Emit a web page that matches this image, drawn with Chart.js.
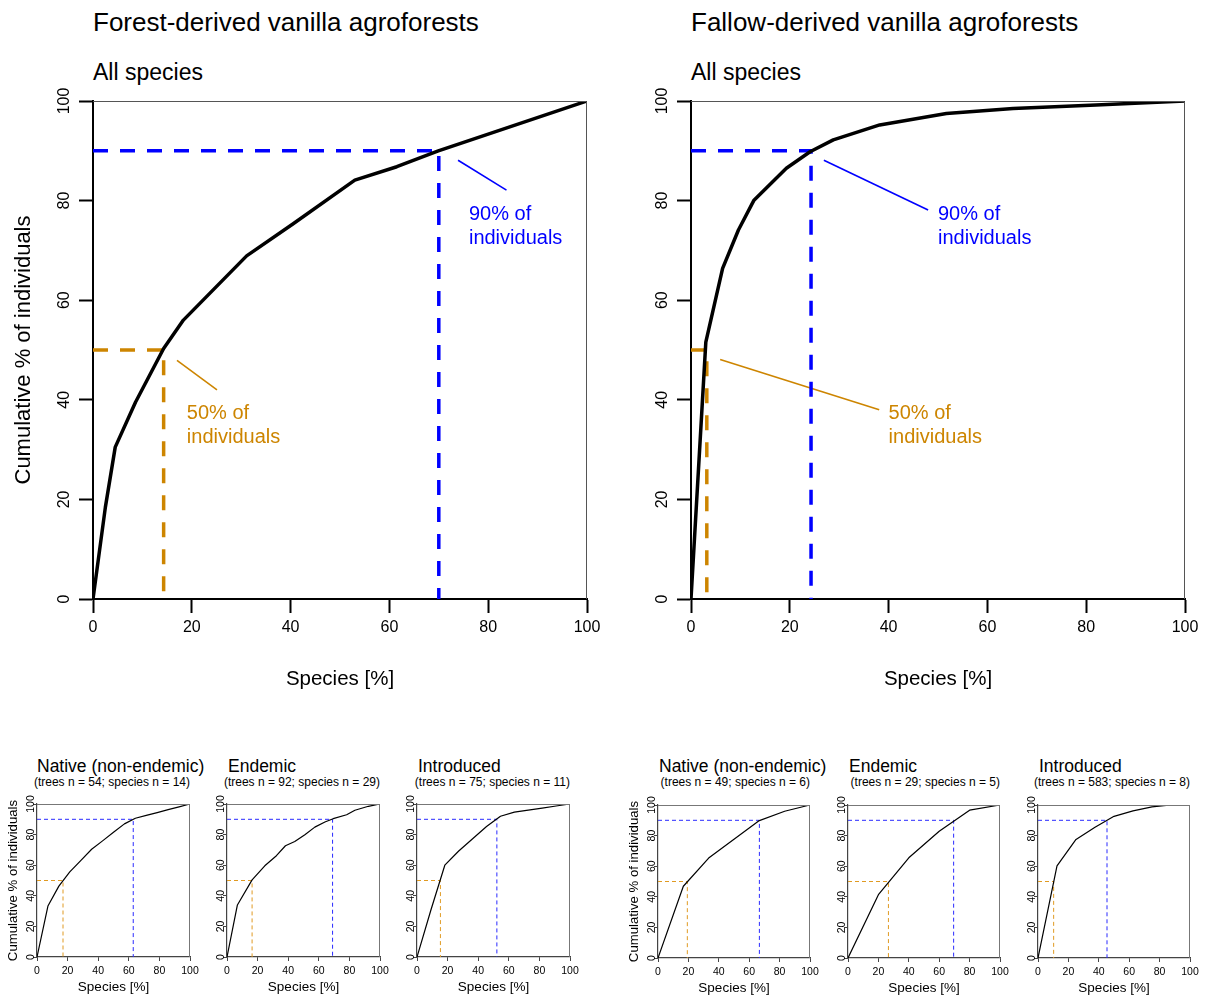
<!DOCTYPE html>
<html>
<head>
<meta charset="utf-8">
<script src="https://cdn.jsdelivr.net/npm/chart.js@4.4.0/dist/chart.umd.min.js"></script>
<style>
  body { margin: 0; background: #fff; width: 1210px; height: 996px; position: relative; overflow: hidden;
         font-family: 'Liberation Sans', Arial, Helvetica, sans-serif; color: #000; }
  canvas { position: absolute; }
  .t { position: absolute; white-space: nowrap; }
  .big { font-size: 26px; line-height: 30px; top: 7px; }
  .sub { font-size: 23px; line-height: 30px; top: 57px; }
  .st { font-size: 17.5px; line-height: 20px; top: 756px; }
  .sn { font-size: 12px; line-height: 14px; top: 775px; text-align: right; }
</style>
</head>
<body>

<div class="t big" style="left:93px">Forest-derived vanilla agroforests</div>
<div class="t big" style="left:691px">Fallow-derived vanilla agroforests</div>
<div class="t sub" style="left:93px">All species</div>
<div class="t sub" style="left:691px">All species</div>

<div class="t st" style="left:37px">Native (non-endemic)</div>
<div class="t st" style="left:228px">Endemic</div>
<div class="t st" style="left:418px">Introduced</div>
<div class="t st" style="left:659px">Native (non-endemic)</div>
<div class="t st" style="left:849px">Endemic</div>
<div class="t st" style="left:1039px">Introduced</div>

<div class="t sn" style="right:1020px">(trees n = 54; species n = 14)</div>
<div class="t sn" style="right:830px">(trees n = 92; species n = 29)</div>
<div class="t sn" style="right:640px">(trees n = 75; species n = 11)</div>
<div class="t sn" style="right:400px">(trees n = 49; species n = 6)</div>
<div class="t sn" style="right:210px">(trees n = 29; species n = 5)</div>
<div class="t sn" style="right:20px">(trees n = 583; species n = 8)</div>

<script>
var FONT = "'Liberation Sans', Arial, Helvetica, sans-serif";
Chart.defaults.font.family = FONT;
Chart.defaults.color = '#000';

var xTicks = [0, 20, 40, 60, 80, 100];
var yTicks = [0, 20, 40, 60, 80, 100];

// cumulative curves: species [%] -> cumulative % of individuals
var forestAllX = [0, 2.5, 4.5, 8.6, 14.3, 18.3, 31.1, 40.6, 53, 61.5, 69.9, 100];
var forestAllY = [0, 18.4, 30.5, 39.5, 50.3, 56, 68.9, 75.4, 84.1, 86.8, 90, 100];
var fallowAllX = [0, 3.0, 6.4, 9.6, 12.7, 19.3, 24.1, 28.8, 38.2, 51.7, 65.2, 82, 100];
var fallowAllY = [0, 51.6, 66.4, 74.1, 80, 86.5, 89.8, 92.2, 95.2, 97.5, 98.5, 99.2, 100];

var forestNativeX = [0, 7.14, 14.29, 21.43, 28.57, 35.71, 42.86, 50, 57.14, 64.29, 71.43, 78.57, 85.71, 92.86, 100];
var forestNativeY = [0, 33.3, 46.3, 55.6, 63, 70.4, 75.9, 81.5, 87, 90.7, 92.6, 94.4, 96.3, 98.1, 100];
var forestEndemicX = [0, 6.8, 16.4, 24.7, 32.3, 38.2, 44.3, 50.9, 57.4, 64, 69.4, 78.2, 83.6, 92.4, 100];
var forestEndemicY = [0, 34, 50.4, 59.6, 66.2, 72.7, 75.5, 79.9, 84.9, 88.2, 90.4, 93, 95.9, 98.5, 100];
var forestIntroX = [0, 9.09, 18.18, 27.27, 36.36, 45.45, 54.55, 63.64, 72.73, 81.82, 90.91, 100];
var forestIntroY = [0, 30.7, 60, 69.3, 77.3, 85.3, 92, 94.7, 96, 97.3, 98.7, 100];

var fallowNativeX = [0, 16.67, 33.33, 50, 66.67, 83.33, 100];
var fallowNativeY = [0, 46.9, 65.3, 77.6, 89.8, 95.9, 100];
var fallowEndemicX = [0, 20, 40, 60, 80, 100];
var fallowEndemicY = [0, 41.4, 65.5, 82.8, 96.6, 100];
var fallowIntroX = [0, 12.5, 25, 37.5, 50, 62.5, 75, 87.5, 100];
var fallowIntroY = [0, 60.2, 77.5, 85.5, 92.6, 96.2, 98.8, 100, 100];

// species share where 50% / 90% of individuals are reached
// order: forestAll, fallowAll, forestNative, forestEndemic, forestIntro, fallowNative, fallowEndemic, fallowIntro
var at50 = [14.3, 3.2, 17.0, 16.4, 15.3, 19.3, 26.6, 10.3];
var at90 = [70.0, 24.3, 62.9, 69.0, 52.2, 66.7, 69.5, 45.4];

// leader lines and note positions on the big panels (data units)
var forestLead90X = [73.9, 83.7], forestLead90Y = [88.1, 82.1];
var forestLead50X = [17.0, 25.1], forestLead50Y = [47.9, 42.0];
var fallowLead90X = [26.9, 48.0], fallowLead90Y = [88.1, 78.1];
var fallowLead50X = [5.9, 38.1], fallowLead50Y = [48.1, 38.0];
var note90 = ['90% of', 'individuals'];
var note50 = ['50% of', 'individuals'];
var forestNote90 = [76.1, 77.3], forestNote50 = [19.0, 37.3];
var fallowNote90 = [50.0, 77.3], fallowNote50 = [40.0, 37.3];

var blue = '#0000FF';
var orange = '#CD8500';

function pts(xs, ys) {
  return xs.map(function (x, i) { return { x: x, y: ys[i] }; });
}

var paper = {
  id: 'paper',
  afterDatasetsDraw: function (chart, args, opt) {
    var ctx = chart.ctx, a = chart.chartArea;
    var sx = chart.scales.x, sy = chart.scales.y;
    ctx.save();
    ctx.strokeStyle = opt.frame;
    ctx.lineWidth = opt.frameWidth;
    ctx.beginPath();
    ctx.moveTo(a.left, a.top + 0.5);
    ctx.lineTo(a.right - 0.5, a.top + 0.5);
    ctx.lineTo(a.right - 0.5, a.bottom);
    ctx.stroke();

    // y tick labels, parallel to the axis
    ctx.fillStyle = '#000';
    ctx.font = opt.tickSize + 'px ' + FONT;
    ctx.textAlign = 'center';
    ctx.textBaseline = 'middle';
    yTicks.forEach(function (v) {
      ctx.save();
      ctx.translate(a.left - opt.yGap, sy.getPixelForValue(v));
      ctx.rotate(-Math.PI / 2);
      ctx.fillText(String(v), 0, 0);
      ctx.restore();
    });

    ctx.textAlign = 'left';
    ctx.font = '20px ' + FONT;
    (opt.notes || []).forEach(function (n) {
      ctx.fillStyle = n.color;
      n.text.forEach(function (t, i) {
        ctx.fillText(t, sx.getPixelForValue(n.at[0]), sy.getPixelForValue(n.at[1]) + i * 24);
      });
    });
    ctx.restore();
  }
};

function panel(box, xs, ys, k, big, yTitle, extra, notes) {
  var m = big ? { left: 93, top: 20, right: 15, bottom: 111 } : { left: 37, top: 14, right: 9, bottom: 39 };
  var w = box[2] + m.left + m.right, h = box[3] + m.top + m.bottom;
  var c = document.createElement('canvas');
  c.width = w; c.height = h;
  c.style.left = (box[0] - m.left) + 'px';
  c.style.top = (box[1] - m.top) + 'px';
  c.style.width = w + 'px';
  c.style.height = h + 'px';
  document.body.appendChild(c);

  var lw = big ? 3.5 : 1.2;
  var dash = big ? [15, 12] : [4, 3];
  var gw = big ? 3.5 : 1;
  var axisCol = big ? '#000' : '#444';

  var sets = [
    { data: pts(xs, ys), borderColor: '#000', borderWidth: lw, borderCapStyle: 'round', borderJoinStyle: 'round' },
    { data: pts([0, at90[k], at90[k]], [90, 90, 0]), borderColor: big ? blue : '#2a2aff', borderWidth: gw, borderDash: dash },
    { data: pts([0, at50[k], at50[k]], [50, 50, 0]), borderColor: big ? orange : '#e09a22', borderWidth: gw, borderDash: dash }
  ];
  (extra || []).forEach(function (e) {
    sets.push({ data: pts(e[0], e[1]), borderColor: e[2], borderWidth: 1.6 });
  });
  sets.forEach(function (s) { s.pointRadius = 0; s.tension = 0; s.fill = false; });

  new Chart(c, {
    type: 'line',
    data: { datasets: sets },
    options: {
      responsive: false,
      animation: false,
      events: [],
      layout: { autoPadding: false, padding: { left: 0, top: m.top, right: m.right, bottom: 0 } },
      plugins: {
        legend: { display: false },
        tooltip: { enabled: false },
        paper: {
          frame: big ? '#555' : '#777', frameWidth: 1,
          tickSize: big ? 16 : 10.5, yGap: big ? 28 : 6, notes: notes
        }
      },
      scales: {
        x: {
          type: 'linear', min: 0, max: 100,
          afterFit: function (s) { s.height = m.bottom; s.paddingLeft = 0; s.paddingRight = 0; },
          afterBuildTicks: function (s) { s.ticks = xTicks.map(function (v) { return { value: v }; }); },
          border: { display: true, color: axisCol, width: big ? 2 : 1.2 },
          grid: { display: true, drawOnChartArea: false, drawTicks: true, tickLength: big ? 14 : 4,
                  tickWidth: big ? 2 : 1, tickColor: axisCol },
          ticks: { color: '#000', autoSkip: false, maxRotation: 0, padding: big ? 5 : 4,
                   font: { size: big ? 16 : 10.5 } },
          title: { display: true, text: 'Species [%]', color: '#000',
                   font: { size: big ? 20.5 : 13.5 }, padding: { top: 0, bottom: big ? 18.7 : 0.6 } }
        },
        y: {
          type: 'linear', min: 0, max: 100,
          afterFit: function (s) { s.width = m.left; s.paddingTop = 0; s.paddingBottom = 0; },
          afterBuildTicks: function (s) { s.ticks = yTicks.map(function (v) { return { value: v }; }); },
          border: { display: true, color: axisCol, width: big ? 2 : 1.2 },
          grid: { display: true, drawOnChartArea: false, drawTicks: true, tickLength: big ? 14 : 4,
                  tickWidth: big ? 2 : 1, tickColor: axisCol },
          ticks: { display: false },
          title: { display: yTitle, text: 'Cumulative % of individuals', color: '#000',
                   font: { size: big ? 22 : 13.2 }, padding: { top: big ? 10.8 : 5.4, bottom: 0 } }
        }
      }
    },
    plugins: [paper]
  });
}

panel([93, 101, 494, 498], forestAllX, forestAllY, 0, true, true,
  [[forestLead90X, forestLead90Y, blue], [forestLead50X, forestLead50Y, orange]],
  [{ text: note90, at: forestNote90, color: blue }, { text: note50, at: forestNote50, color: orange }]);
panel([691, 101, 494, 498], fallowAllX, fallowAllY, 1, true, false,
  [[fallowLead90X, fallowLead90Y, blue], [fallowLead50X, fallowLead50Y, orange]],
  [{ text: note90, at: fallowNote90, color: blue }, { text: note50, at: fallowNote50, color: orange }]);

panel([37, 804, 153, 153], forestNativeX, forestNativeY, 2, false, true);
panel([227, 804, 153, 153], forestEndemicX, forestEndemicY, 3, false, false);
panel([417, 804, 153, 153], forestIntroX, forestIntroY, 4, false, false);
panel([658, 805, 152, 153], fallowNativeX, fallowNativeY, 5, false, true);
panel([848, 805, 152, 153], fallowEndemicX, fallowEndemicY, 6, false, false);
panel([1038, 805, 152, 153], fallowIntroX, fallowIntroY, 7, false, false);
</script>
</body>
</html>
